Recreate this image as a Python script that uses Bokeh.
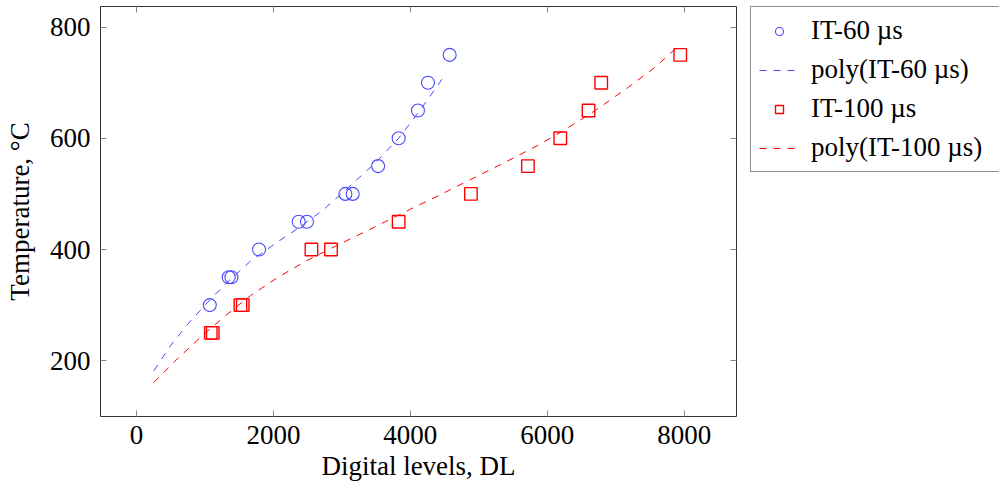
from bokeh.plotting import figure
from bokeh.layouts import row
from bokeh.models import Range1d, LinearAxis, FixedTicker, Legend, LegendItem
from bokeh.embed import file_html
from bokeh.resources import INLINE

# ---- data ----
it60_dl = [1070, 1347, 1386, 1790, 2369, 2490, 3051, 3158, 3529, 3829, 4111, 4257, 4574]
it60_temp = [300, 350, 350, 400, 450, 450, 500, 500, 550, 600, 650, 700, 750]
it100_dl = [1085, 1114, 1518, 1552, 2555, 2841, 3829, 4885, 5717, 6190, 6603, 6788, 7942]
it100_temp = [250, 250, 300, 300, 400, 400, 450, 500, 550, 600, 650, 700, 750]

poly60_dl = [253, 496, 764, 1031, 1323, 1664, 2053, 2394, 2734, 3099, 3489, 3829,
             4121, 4365, 4501]
poly60_temp = [182, 227, 268, 304, 341, 379, 413, 441, 472, 512, 556, 600,
               647, 689, 713]
poly100_dl = [253, 593, 934, 1299, 1664, 2053, 2442, 2905, 3439, 3927, 4413, 4899,
              5387, 5873, 6213, 6701, 7187, 7577, 7942]
poly100_temp = [161, 203, 242, 281, 317, 349, 377, 406, 438, 468, 497, 527,
                557, 588, 612, 650, 692, 728, 769]

x_ticks = [0, 2000, 4000, 6000, 8000]
y_ticks = [200, 400, 600, 800]

labels = ["IT-60 µs", "poly(IT-60 µs)", "IT-100 µs", "poly(IT-100 µs)"]
x_label = "Digital levels, DL"
y_label = "Temperature, °C"

BLUE = "#4848ff"
RED = "#ff0000"
FONT = "Liberation Serif"
FS = "27px"
H = 483


def add_series(fig):
    a = fig.scatter(it60_dl, it60_temp, marker="circle", size=13,
                    fill_color=BLUE, fill_alpha=0,
                    line_color=BLUE, line_width=1.1)
    b = fig.line(poly60_dl, poly60_temp, line_color=BLUE, line_width=1, line_dash="7 7")
    c = fig.scatter(it100_dl, it100_temp, marker="square", size=12.5,
                    fill_color=RED, fill_alpha=0,
                    line_color=RED, line_width=1.4)
    d = fig.line(poly100_dl, poly100_temp, line_color=RED, line_width=1, line_dash="7 7")
    return a, b, c, d


p = figure(width=740, height=H, output_backend="svg", toolbar_location=None,
           x_range=Range1d(-526, 8764), y_range=Range1d(99.7, 837),
           min_border_left=100, min_border_right=4, min_border_top=6,
           min_border_bottom=0)
p.background_fill_color = "white"
p.border_fill_color = "white"
p.xgrid.visible = False
p.ygrid.visible = False
p.outline_line_color = "#333333"
p.outline_line_width = 1
p.outline_line_alpha = 1


def style_axis(ax, ticks, show_labels=True):
    ax.ticker = FixedTicker(ticks=ticks)
    ax.axis_line_color = None
    ax.major_tick_in = 6
    ax.major_tick_out = 0
    ax.minor_tick_line_color = None
    ax.major_tick_line_color = "#888888"
    ax.major_tick_line_width = 1
    ax.major_label_text_font = FONT
    ax.major_label_text_font_size = FS
    ax.major_label_text_color = "black"
    ax.axis_label_text_font = FONT
    ax.axis_label_text_font_size = FS
    ax.axis_label_text_font_style = "normal"
    ax.axis_label_text_color = "black"
    if not show_labels:
        ax.major_label_overrides = {t: "" for t in ticks}
        ax.major_label_standoff = 0


xa = p.xaxis[0]
ya = p.yaxis[0]
style_axis(xa, x_ticks)
style_axis(ya, y_ticks)
xa.axis_label = x_label
ya.axis_label = y_label
xa.major_label_standoff = 9
xa.axis_label_standoff = 4
ya.major_label_standoff = 10
ya.axis_label_standoff = 12

top_ax = LinearAxis()
style_axis(top_ax, x_ticks, show_labels=False)
p.add_layout(top_ax, "above")
right_ax = LinearAxis()
style_axis(right_ax, y_ticks, show_labels=False)
p.add_layout(right_ax, "right")

add_series(p)

# ---- legend figure: same series, out of its view, only used for the legend ----
q = figure(width=259, height=H, output_backend="svg", toolbar_location=None,
           x_axis_type=None, y_axis_type=None,
           x_range=Range1d(-30000, -20000), y_range=Range1d(99.7, 837),
           min_border_left=10, min_border_right=0, min_border_top=0,
           min_border_bottom=0)
q.xgrid.visible = False
q.ygrid.visible = False
q.outline_line_color = None
q.background_fill_color = "white"
q.border_fill_color = "white"

s60, d60, s100, d100 = add_series(q)

legend = Legend(items=[
    LegendItem(label=labels[0], renderers=[s60]),
    LegendItem(label=labels[1], renderers=[d60]),
    LegendItem(label=labels[2], renderers=[s100]),
    LegendItem(label=labels[3], renderers=[d100]),
], location="top_left")
legend.label_text_font = FONT
legend.label_text_font_size = FS
legend.label_text_color = "black"
legend.glyph_width = 40
legend.glyph_height = 20
legend.label_height = 20
legend.label_width = 180
legend.label_standoff = 12
legend.padding = 8
legend.spacing = 8
legend.margin = 0
legend.border_line_color = "#222222"
legend.border_line_width = 1
legend.background_fill_color = "white"
legend.background_fill_alpha = 1
q.add_layout(legend, "center")

layout = row(p, q, spacing=0)
open("out.html", "w").write(file_html(layout, INLINE))
